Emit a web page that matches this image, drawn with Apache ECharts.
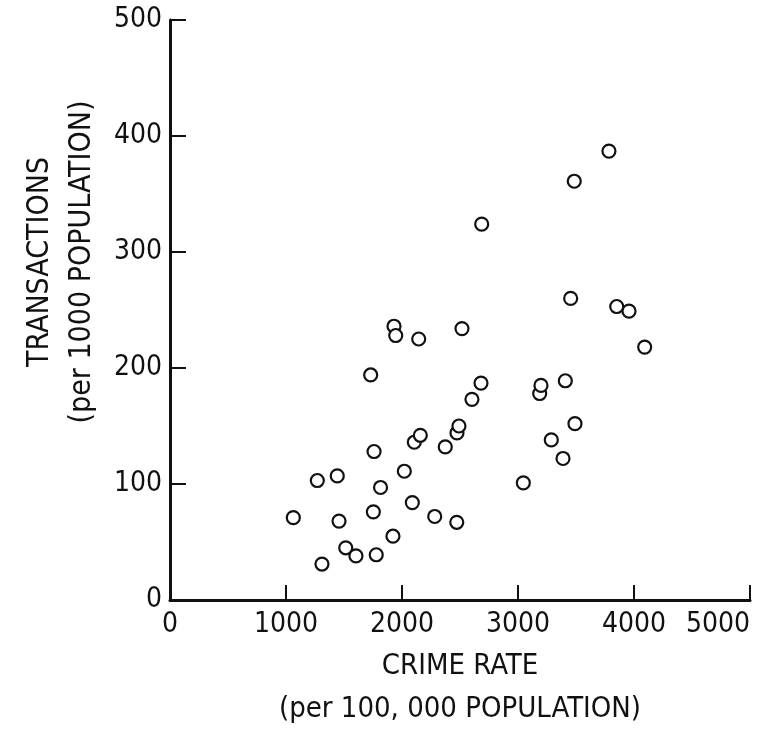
<!DOCTYPE html>
<html>
<head>
<meta charset="utf-8">
<script src="https://cdn.jsdelivr.net/npm/echarts@6/dist/echarts.min.js"></script>
<style>
  html, body { margin: 0; padding: 0; background: #fff; }
  #chart { width: 758px; height: 730px; }
</style>
</head>
<body>
<div id="chart"></div>
<script>
// crime rate (per 100,000) vs transactions (per 1000)
var crimeRate = [1063, 1270, 1442, 1310, 1457, 1515, 1603, 1759, 1753, 1778, 1815, 1922, 2020, 2089,
  2282, 2472, 1730, 1931, 1946, 2144, 2106, 2158, 2373, 2474, 2491, 2517, 2603, 2681, 2687,
  3046, 3187, 3198, 3287, 3388, 3408, 3454, 3485, 3491, 3784, 3851, 3957, 4092];
var transactions = [71, 103, 107, 31, 68, 45, 38, 128, 76, 39, 97, 55, 111, 84,
  72, 67, 194, 236, 228, 225, 136, 142, 132, 144, 150, 234, 173, 187, 324,
  101, 178, 185, 138, 122, 189, 260, 361, 152, 387, 253, 249, 218];
var xTicks = [0, 1000, 2000, 3000, 4000, 5000];
var yTicks = [0, 100, 200, 300, 400, 500];

var font = '"Liberation Sans Narrow", "DejaVu Sans Condensed", sans-serif';
var points = crimeRate.map(function (x, i) { return [x, transactions[i]]; });
var plain = function (v) { return String(v); };

var myChart = echarts.init(document.getElementById('chart'));
var option = {
  backgroundColor: '#fff',
  animation: false,
  grid: { left: 170, right: 8, top: 20, bottom: 130, containLabel: false, outerBoundsMode: 'none' },
  xAxis: {
    type: 'value',
    min: xTicks[0],
    max: xTicks[xTicks.length - 1],
    interval: 1000,
    name: 'CRIME RATE\n(per 100, 000 POPULATION)',
    nameLocation: 'middle',
    nameGap: 45,
    nameTextStyle: { color: '#111', fontFamily: font, fontSize: 29, lineHeight: 43 },
    axisLine: { lineStyle: { color: '#111', width: 3 } },
    axisTick: { inside: true, length: 15, lineStyle: { color: '#111', width: 2 } },
    axisLabel: { color: '#111', fontFamily: font, fontSize: 28, margin: 11, alignMaxLabel: 'right', formatter: plain },
    splitLine: { show: false }
  },
  yAxis: {
    type: 'value',
    min: yTicks[0],
    max: yTicks[yTicks.length - 1],
    interval: 100,
    name: 'TRANSACTIONS\n(per 1000 POPULATION)',
    nameLocation: 'middle',
    nameGap: 44,
    nameRotate: 90,
    nameTextStyle: { color: '#111', fontFamily: font, fontSize: 30, lineHeight: 42, padding: [0, 0, 0, 96] },
    axisLine: { lineStyle: { color: '#111', width: 3 } },
    axisTick: { inside: true, length: 16, lineStyle: { color: '#111', width: 2 } },
    axisLabel: { color: '#111', fontFamily: font, fontSize: 28, margin: 8, formatter: plain },
    splitLine: { show: false }
  },
  series: [{
    type: 'scatter',
    data: points,
    symbol: 'circle',
    symbolSize: 13,
    itemStyle: { color: '#fff', borderColor: '#111', borderWidth: 2.2, opacity: 1 }
  }]
};
myChart.setOption(option);
</script>
</body>
</html>
